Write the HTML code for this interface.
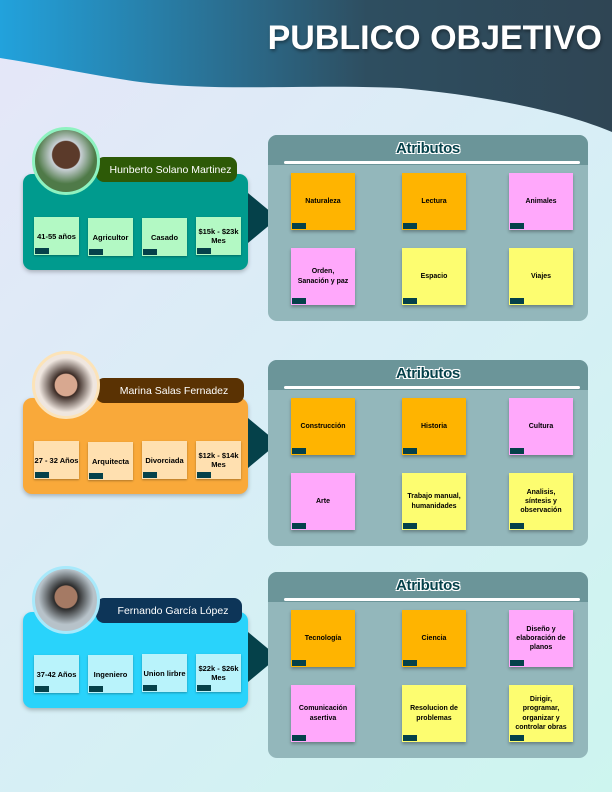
<!DOCTYPE html>
<html><head><meta charset="utf-8"><style>
*{margin:0;padding:0;box-sizing:border-box}
body{width:612px;height:792px;position:relative;overflow:hidden;font-family:"Liberation Sans",sans-serif;background:linear-gradient(135deg,#e6e6f8 0%,#d8eef6 50%,#cdf5ef 100%)}
.a{position:absolute}
.title{right:10px;top:19px;color:#fff;font-size:34px;font-weight:bold;text-shadow:1px 2px 3px rgba(0,0,0,.4);letter-spacing:0}
.card{border-radius:9px;box-shadow:0 2px 4px rgba(0,0,0,.25)}
.name{border-radius:8px;color:#fff;font-size:10.5px;display:flex;align-items:center;justify-content:center;padding-left:8px}
.circ{width:68px;height:68px;border-radius:50%;border:3px solid;overflow:hidden}
.box{width:45px;height:38px;font-size:7.5px;font-weight:bold;display:flex;align-items:center;justify-content:center;text-align:center;box-shadow:0 1px 2px rgba(0,0,0,.3);line-height:1.2}
.tag{position:absolute;left:1px;bottom:1px;width:14px;height:6px;background:#05414a}
.panel{width:320px;height:186px;background:#93b7bb;border-radius:9px;overflow:hidden}
.ph{left:0;top:0;width:320px;height:30px;background:#6b9599}
.pt{left:0;top:5px;width:320px;text-align:center;font-size:15px;font-weight:bold;color:#05414a;letter-spacing:-0.3px;text-shadow:-1px -1px 0 #fff,1px -1px 0 #fff,-1px 1px 0 #fff,1px 1px 0 #fff}
.pl{left:16px;top:26px;width:296px;height:3px;background:#fff;border-radius:2px}
.st{width:64px;height:57px;font-size:7px;font-weight:bold;display:flex;align-items:center;justify-content:center;text-align:center;box-shadow:0 2px 3px rgba(0,0,0,.3);line-height:1.3;padding:0 5px}
.o{background:#ffb400}.p{background:#ffa8fb}.y{background:#fdfd70}
.tri{width:0;height:0;border-top:25px solid transparent;border-bottom:25px solid transparent;border-left:30px solid #05414a}
</style></head><body>
<svg class="a" style="left:0;top:0" width="612" height="135"><defs><linearGradient id="g" x1="0" x2="1"><stop offset="0" stop-color="#22a2dc"/><stop offset="0.4" stop-color="#2b6a8a"/><stop offset="0.6" stop-color="#2e4e60"/><stop offset="1" stop-color="#2f4554"/></linearGradient></defs>
<path d="M0 0H612V132C560 110 480 95 400 88C300 84 220 92 140 82C90 75 40 64 0 58Z" fill="url(#g)"/></svg>
<div class="a title">PUBLICO OBJETIVO</div>

<!-- Section 1 -->
<div class="a card" style="left:23px;top:174px;width:225px;height:96px;background:#009b8e"></div>
<div class="a name" style="left:96px;top:157px;width:141px;height:25px;background:#2d5a07">Hunberto Solano Martinez</div>
<div class="a circ" style="left:32px;top:127px;border-color:#8ef2c0;background:radial-gradient(circle at 50% 40%,#5b3a2a 0 28%,#c9d0d6 30%,#4f7a48 60%)"></div>
<div class="a box" style="left:34px;top:217px;background:#b3f9c4">41-55 años<div class="tag"></div></div>
<div class="a box" style="left:88px;top:218px;background:#b3f9c4">Agricultor<div class="tag"></div></div>
<div class="a box" style="left:142px;top:218px;background:#b3f9c4">Casado<div class="tag"></div></div>
<div class="a box" style="left:196px;top:217px;background:#b3f9c4">$15k - $23k<br>Mes<div class="tag"></div></div>
<div class="a tri" style="left:248px;top:193px"></div>
<div class="a panel" style="left:268px;top:135px"><div class="a ph"></div><div class="a pt">Atributos</div><div class="a pl"></div>
<div class="a st o" style="left:23px;top:38px">Naturaleza<div class="tag"></div></div>
<div class="a st o" style="left:134px;top:38px">Lectura<div class="tag"></div></div>
<div class="a st p" style="left:241px;top:38px">Animales<div class="tag"></div></div>
<div class="a st p" style="left:23px;top:113px">Orden, Sanación y paz<div class="tag"></div></div>
<div class="a st y" style="left:134px;top:113px">Espacio<div class="tag"></div></div>
<div class="a st y" style="left:241px;top:113px">Viajes<div class="tag"></div></div></div>

<!-- Section 2 -->
<div class="a card" style="left:23px;top:398px;width:225px;height:96px;background:#f9a93a"></div>
<div class="a name" style="left:96px;top:378px;width:148px;height:25px;background:#5a3203">Marina Salas Fernadez</div>
<div class="a circ" style="left:32px;top:351px;border-color:#fce3b8;background:radial-gradient(circle at 50% 50%,#d8a890 0 25%,#3a2a24 27%,#efe6df 62%)"></div>
<div class="a box" style="left:34px;top:441px;background:#ffe0b0">27 - 32 Años<div class="tag"></div></div>
<div class="a box" style="left:88px;top:442px;background:#ffe0b0">Arquitecta<div class="tag"></div></div>
<div class="a box" style="left:142px;top:441px;background:#ffe0b0">Divorciada<div class="tag"></div></div>
<div class="a box" style="left:196px;top:441px;background:#ffe0b0">$12k - $14k<br>Mes<div class="tag"></div></div>
<div class="a tri" style="left:248px;top:418px"></div>
<div class="a panel" style="left:268px;top:360px"><div class="a ph"></div><div class="a pt">Atributos</div><div class="a pl"></div>
<div class="a st o" style="left:23px;top:38px">Construcción<div class="tag"></div></div>
<div class="a st o" style="left:134px;top:38px">Historia<div class="tag"></div></div>
<div class="a st p" style="left:241px;top:38px">Cultura<div class="tag"></div></div>
<div class="a st p" style="left:23px;top:113px">Arte<div class="tag"></div></div>
<div class="a st y" style="left:134px;top:113px">Trabajo manual, humanidades<div class="tag"></div></div>
<div class="a st y" style="left:241px;top:113px">Analisis, síntesis y observación<div class="tag"></div></div></div>

<!-- Section 3 -->
<div class="a card" style="left:23px;top:612px;width:225px;height:96px;background:#29d3fb"></div>
<div class="a name" style="left:96px;top:598px;width:146px;height:25px;background:#0d3558">Fernando García López</div>
<div class="a circ" style="left:32px;top:566px;border-color:#a8e9fb;background:radial-gradient(circle at 50% 45%,#a57a64 0 24%,#2a2a2a 26%,#b7c2c9 60%)"></div>
<div class="a box" style="left:34px;top:655px;background:#b9f3fb">37-42 Años<div class="tag"></div></div>
<div class="a box" style="left:88px;top:655px;background:#b9f3fb">Ingeniero<div class="tag"></div></div>
<div class="a box" style="left:142px;top:654px;background:#b9f3fb">Union lirbre<div class="tag"></div></div>
<div class="a box" style="left:196px;top:654px;background:#b9f3fb">$22k - $26k<br>Mes<div class="tag"></div></div>
<div class="a tri" style="left:248px;top:632px"></div>
<div class="a panel" style="left:268px;top:572px"><div class="a ph"></div><div class="a pt">Atributos</div><div class="a pl"></div>
<div class="a st o" style="left:23px;top:38px">Tecnología<div class="tag"></div></div>
<div class="a st o" style="left:134px;top:38px">Ciencia<div class="tag"></div></div>
<div class="a st p" style="left:241px;top:38px">Diseño y elaboración de planos<div class="tag"></div></div>
<div class="a st p" style="left:23px;top:113px">Comunicación asertiva<div class="tag"></div></div>
<div class="a st y" style="left:134px;top:113px">Resolucion de problemas<div class="tag"></div></div>
<div class="a st y" style="left:241px;top:113px">Dirigir, programar, organizar y controlar obras<div class="tag"></div></div></div>
</body></html>
